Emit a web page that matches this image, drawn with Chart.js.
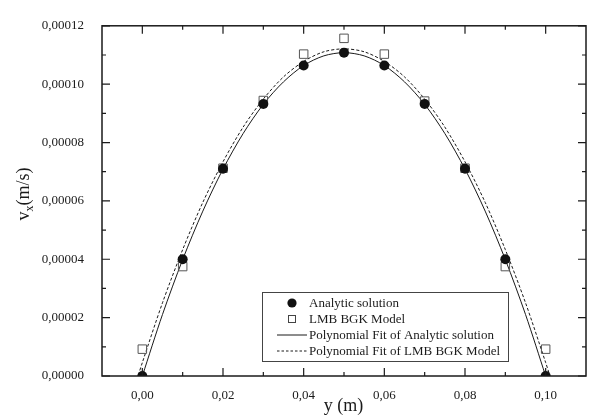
<!DOCTYPE html>
<html lang="en">
<head>
  <meta charset="UTF-8" />
  <title>Velocity profile</title>
  <script src="https://cdn.jsdelivr.net/npm/chart.js"></script>
  <style>
    html, body { margin: 0; padding: 0; background: #fff; }
    #wrap { width: 593px; height: 416px; }
  </style>
</head>
<body>
  <div id="wrap"><canvas id="grafico" width="593" height="416"></canvas></div>

  <script>
    // data
    const yPos = [0, 0.01, 0.02, 0.03, 0.04, 0.05, 0.06, 0.07, 0.08, 0.09, 0.10];
    const analytic = [0, 0.0000400, 0.0000710, 0.0000932, 0.0001064, 0.0001108, 0.0001064, 0.0000932, 0.0000710, 0.0000400, 0];
    const lmb = [0.0000092, 0.0000375, 0.0000712, 0.0000944, 0.0001103, 0.0001157, 0.0001103, 0.0000942, 0.0000712, 0.0000375, 0.0000092];

    const fitPos = [0, 0.005, 0.01, 0.015, 0.02, 0.025, 0.03, 0.035, 0.04, 0.045, 0.05,
                    0.055, 0.06, 0.065, 0.07, 0.075, 0.08, 0.085, 0.09, 0.095, 0.10];
    const fitAnalytic = [0, 0.0000211, 0.0000399, 0.0000565, 0.0000709, 0.0000831, 0.0000931, 0.0001008, 0.0001064, 0.0001097, 0.0001108,
                         0.0001097, 0.0001064, 0.0001008, 0.0000931, 0.0000831, 0.0000709, 0.0000565, 0.0000399, 0.0000211, 0];

    const fitLmbPos = [-0.001, 0, 0.005, 0.01, 0.015, 0.02, 0.025, 0.03, 0.035, 0.04, 0.045, 0.05,
                       0.055, 0.06, 0.065, 0.07, 0.075, 0.08, 0.085, 0.09, 0.095, 0.10, 0.101];
    const fitLmb = [0.0000003, 0.0000046, 0.0000251, 0.0000433, 0.0000595, 0.0000734, 0.0000853, 0.0000949, 0.0001025, 0.0001078, 0.0001111, 0.0001121,
                    0.0001111, 0.0001078, 0.0001025, 0.0000949, 0.0000853, 0.0000734, 0.0000595, 0.0000433, 0.0000251, 0.0000046, 0.0000003];

    const xTicks = [0, 0.02, 0.04, 0.06, 0.08, 0.10];
    const yTicks = [0, 0.00002, 0.00004, 0.00006, 0.00008, 0.00010, 0.00012];

    const fonte = 'Liberation Serif, Times New Roman, serif';
    const cor = '#1a1a1a';

    function pares(xs, ys) {
      return xs.map((x, i) => ({ x: x, y: ys[i] }));
    }

    // moldura, ticks para dentro, titulos dos eixos e legenda
    const extras = {
      id: 'extras',
      afterDraw(chart) {
        const ctx = chart.ctx;
        const a = chart.chartArea;
        const sx = chart.scales.x;
        const sy = chart.scales.y;
        ctx.save();
        ctx.strokeStyle = cor;
        ctx.lineWidth = 1.5;
        ctx.strokeRect(a.left, a.top, a.right - a.left, a.bottom - a.top);

        ctx.lineWidth = 1.2;
        ctx.beginPath();
        // x ticks (major + minor), bottom and top
        for (let i = 0; i < xTicks.length; i++) {
          const px = sx.getPixelForValue(xTicks[i]);
          ctx.moveTo(px, a.bottom); ctx.lineTo(px, a.bottom - 8);
          ctx.moveTo(px, a.top); ctx.lineTo(px, a.top + 8);
        }
        for (let i = 0; i < xTicks.length - 1; i++) {
          const px = sx.getPixelForValue((xTicks[i] + xTicks[i + 1]) / 2);
          ctx.moveTo(px, a.bottom); ctx.lineTo(px, a.bottom - 4);
          ctx.moveTo(px, a.top); ctx.lineTo(px, a.top + 4);
        }
        // minor at -0.01 side is the axis itself; minor beyond 0.10
        const pxEnd = sx.getPixelForValue(0.11);
        // y ticks left and right
        for (let i = 0; i < yTicks.length; i++) {
          const py = sy.getPixelForValue(yTicks[i]);
          ctx.moveTo(a.left, py); ctx.lineTo(a.left + 8, py);
          ctx.moveTo(a.right, py); ctx.lineTo(a.right - 8, py);
        }
        for (let i = 0; i < yTicks.length - 1; i++) {
          const py = sy.getPixelForValue((yTicks[i] + yTicks[i + 1]) / 2);
          ctx.moveTo(a.left, py); ctx.lineTo(a.left + 4, py);
          ctx.moveTo(a.right, py); ctx.lineTo(a.right - 4, py);
        }
        ctx.stroke();

        // titulo eixo x
        ctx.fillStyle = cor;
        ctx.font = '18px ' + fonte;
        ctx.textAlign = 'center';
        ctx.textBaseline = 'middle';
        ctx.fillText('y (m)', (a.left + a.right) / 2 - 0.5, 406);

        // titulo eixo y com subscrito
        ctx.save();
        ctx.translate(24, 194);
        ctx.rotate(-Math.PI / 2);
        ctx.textAlign = 'left';
        ctx.textBaseline = 'middle';
        ctx.font = '18px ' + fonte;
        const wv = ctx.measureText('v').width;
        const wr = ctx.measureText('(m/s)').width;
        ctx.font = '12px ' + fonte;
        const wx = ctx.measureText('x').width;
        const total = wv + wx + wr;
        let cx = -total / 2;
        ctx.font = '18px ' + fonte;
        ctx.fillText('v', cx, 0);
        cx += wv;
        ctx.font = '12px ' + fonte;
        ctx.fillText('x', cx, 6);
        cx += wx;
        ctx.font = '18px ' + fonte;
        ctx.fillText('(m/s)', cx, 0);
        ctx.restore();

        // legenda
        const ds = chart.data.datasets;
        ctx.strokeStyle = '#444';
        ctx.lineWidth = 1;
        ctx.strokeRect(262.5, 292.5, 246, 69);
        const linhas = [303, 319, 335, 351];
        const xs = 292;
        ctx.fillStyle = '#111';
        ctx.beginPath();
        ctx.arc(xs, linhas[0], 4.6, 0, Math.PI * 2);
        ctx.fill();
        ctx.strokeStyle = '#444';
        ctx.strokeRect(xs - 3.5, linhas[1] - 3.5, 7, 7);
        ctx.strokeStyle = cor;
        ctx.beginPath();
        ctx.moveTo(277, linhas[2]); ctx.lineTo(307, linhas[2]);
        ctx.stroke();
        ctx.setLineDash([2.5, 2]);
        ctx.beginPath();
        ctx.moveTo(277, linhas[3]); ctx.lineTo(307, linhas[3]);
        ctx.stroke();
        ctx.setLineDash([]);

        ctx.fillStyle = cor;
        ctx.font = '13px ' + fonte;
        ctx.textAlign = 'left';
        ctx.textBaseline = 'middle';
        for (let i = 0; i < 4; i++) {
          ctx.fillText(ds[i].label, 309, linhas[i] + 0.5);
        }
        ctx.restore();
      }
    };

    const config = {
      type: 'scatter',
      data: {
        datasets: [
          {
            label: 'Analytic solution',
            data: pares(yPos, analytic),
            pointStyle: 'circle',
            pointRadius: 5,
            backgroundColor: '#111',
            borderColor: '#111',
            borderWidth: 0,
            showLine: false,
            order: 0
          },
          {
            label: 'LMB BGK Model',
            data: pares(yPos, lmb),
            pointStyle: 'rect',
            pointRadius: 6,
            backgroundColor: 'rgba(0,0,0,0)',
            borderColor: '#555',
            borderWidth: 1,
            showLine: false,
            order: 0
          },
          {
            label: 'Polynomial Fit of Analytic solution',
            data: pares(fitPos, fitAnalytic),
            pointRadius: 0,
            showLine: true,
            borderColor: cor,
            borderWidth: 1,
            tension: 0.3,
            order: 1
          },
          {
            label: 'Polynomial Fit of LMB BGK Model',
            data: pares(fitLmbPos, fitLmb),
            pointRadius: 0,
            showLine: true,
            borderColor: cor,
            borderWidth: 1,
            borderDash: [3, 2],
            tension: 0.3,
            order: 1
          }
        ]
      },
      options: {
        responsive: false,
        animation: false,
        layout: { padding: { top: 13, right: 3, left: 0, bottom: 0 } },
        plugins: {
          legend: { display: false },
          tooltip: { enabled: false }
        },
        scales: {
          x: {
            type: 'linear',
            min: -0.01,
            max: 0.11,
            grid: { display: false, drawTicks: false },
            border: { display: false },
            afterBuildTicks: (s) => { s.ticks = xTicks.map(v => ({ value: v })); },
            afterFit: (s) => { s.height = 40; },
            ticks: {
              padding: 12,
              color: cor,
              font: { family: fonte, size: 13 },
              callback: (v) => v.toFixed(2).replace('.', ',')
            }
          },
          y: {
            type: 'linear',
            min: 0,
            max: 0.00012,
            grid: { display: false, drawTicks: false },
            border: { display: false },
            afterBuildTicks: (s) => { s.ticks = yTicks.map(v => ({ value: v })); },
            afterFit: (s) => { s.width = 102; },
            ticks: {
              padding: 18,
              color: cor,
              font: { family: fonte, size: 13 },
              callback: (v) => v.toFixed(5).replace('.', ',')
            }
          }
        }
      },
      plugins: [extras]
    };

    new Chart(document.getElementById('grafico'), config);
  </script>
</body>
</html>
